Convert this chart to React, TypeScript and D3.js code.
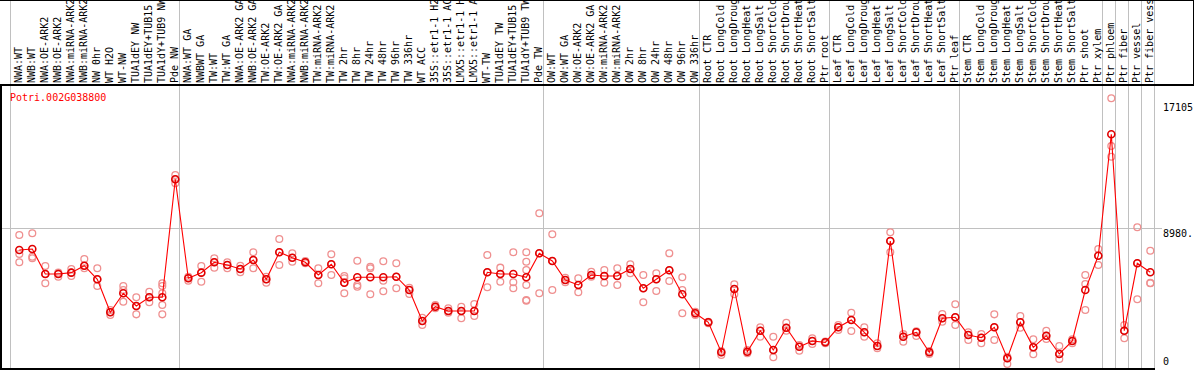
import React from "react";
import * as d3 from "d3";

const title = "Potri.002G038800";

const labels: string[] = [
  "NWA:WT", "NWB:WT", "NWA:OE-ARK2", "NWB:OE-ARK2", "NWA:miRNA-ARK2", "NWB:miRNA-ARK2",
  "NW 0hr", "WT H2O", "WT-NW", "TUA1dEY NW", "TUA1dEY+TUB15", "TUA1dY+TUB9 NW", "Pde NW",
  "NWA:WT GA", "NWBWT GA", "TW:WT", "TW:WT GA", "NWA:OE-ARK2 GA", "NWB:OE-ARK2 GA",
  "TW:OE-ARK2", "TW:OE-ARK2 GA", "NWA:miRNA-ARK2", "NWB:miRNA-ARK2", "TW:miRNA-ARK2",
  "TW:miRNA-ARK2", "TW 2hr", "TW 8hr", "TW 24hr", "TW 48hr", "TW 96hr", "TW 336hr",
  "WT ACC", "35S::etr1-1 H2O", "35S::etr1-1 ACC", "LMX5::etr1-1 H2O", "LMX5::etr1-1 ACC",
  "WT-TW", "TUA1dEY TW", "TUA1dEY+TUB15", "TUA1dY+TUB9 TW", "Pde TW",
  "OW:WT", "OW:WT GA", "OW:OE-ARK2", "OW:OE-ARK2 GA", "OW:miRNA-ARK2", "OW:miRNA-ARK2",
  "OW 2hr", "OW 8hr", "OW 24hr", "OW 48hr", "OW 96hr", "OW 336hr",
  "Root CTR", "Root LongCold", "Root LongDrought", "Root LongHeat", "Root LongSalt",
  "Root ShortCold", "Root ShortDrought", "Root ShortHeat", "Root ShortSalt", "Ptr root",
  "Leaf CTR", "Leaf LongCold", "Leaf LongDrought", "Leaf LongHeat", "Leaf LongSalt",
  "Leaf ShortCold", "Leaf ShortDrought", "Leaf ShortHeat", "Leaf ShortSalt", "Ptr leaf",
  "Stem CTR", "Stem LongCold", "Stem LongDrought", "Stem LongHeat", "Stem LongSalt",
  "Stem ShortCold", "Stem ShortDrought", "Stem ShortHeat", "Stem ShortSalt", "Ptr shoot",
  "Ptr xylem", "Ptr phloem", "Ptr fiber", "Ptr vessel", "Ptr fiber vessel",
];

const means: number[] = [
  7552, 7617, 6003, 6003, 6089, 6539, 5661, 3531, 4757, 3938, 4499, 4499, 12116,
  5725, 6089, 6758, 6584, 6326, 6907, 5661, 7404, 7056, 6758, 5939, 6629, 5442,
  5790, 5790, 5790, 5829, 4970, 2969, 3892, 3615, 3615, 3615, 6113, 6003, 6003, 5790,
  7339, 6842, 5616, 5293, 5939, 5874, 5874, 6326, 5080, 5661, 6242, 4693, 3466,
  2885, 949, 5035, 988, 2343, 1097, 2537, 1310, 1678, 1594,
  2563, 3034, 2240, 1356, 8133, 1956, 2240, 949, 3143, 3208,
  2066, 1891, 2563, 561, 2885, 1272, 2020, 839, 1678, 4970, 7185,
  15021, 2343, 6694, 6113,
];

const replicates: number[][] = [
  [8520, 7294, 6758], [8630, 7120, 7017], [6520, 6003, 5403], [6089, 6003, 5830],
  [6326, 6089, 5874], [6971, 6539, 6371], [6371, 5661, 5229], [3679, 3531, 3357],
  [5229, 4970, 4215], [4499, 3938, 3400], [4861, 4499, 4176], [5403, 5229, 4757, 4002, 3400],
  [12394, 12116, 11858],
  [5829, 5725, 5571], [6520, 6089, 5506], [7017, 6758, 6412], [6758, 6584, 6371],
  [6539, 6326, 6113], [7404, 6907, 6371], [5829, 5661, 5442], [8262, 7404, 6584],
  [7339, 7056, 6797], [6842, 6758, 6694], [6371, 5939, 5403], [7275, 6629, 5939],
  [5874, 5726, 5442, 4757], [6862, 5293, 5183], [6475, 6371, 4693], [6823, 5571, 4886],
  [6694, 5829, 5080], [5119, 4970, 4712], [3183, 2969, 2711], [4002, 3892, 3789],
  [3789, 3615, 3505], [3892, 3615, 3143], [4067, 3615, 3292], [7230, 6113, 5144],
  [6412, 6003, 5506], [7404, 5467, 5080], [7404, 6797, 6261, 5293, 4325, 4280],
  [9921, 7339, 4757], [8566, 6842, 4970],
  [5765, 5616, 5467], [5726, 5293, 4822], [6152, 5939, 5829], [6261, 5874, 5442],
  [6371, 5874, 5293], [6629, 6326, 6048], [5939, 5080, 4176], [6048, 5661, 4906],
  [7339, 6242, 5551], [5790, 4970, 3466], [3570, 3466, 3357], [2924, 2885, 2821],
  [1033, 949, 775], [5338, 5035, 4693], [1097, 988, 884], [2563, 2343, 1956],
  [1956, 1097, 626], [2860, 2537, 2343], [1420, 1310, 1052], [1853, 1678, 1485],
  [1650, 1594, 1540],
  [2711, 2563, 2388], [3505, 3034, 2324], [2563, 2240, 1956], [1530, 1356, 1207],
  [8695, 8133, 7404], [2120, 1956, 1633], [2300, 2240, 2001], [1033, 949, 839],
  [3421, 3143, 2924], [4047, 3208, 2711],
  [2240, 2066, 1743], [2130, 1891, 1530], [3400, 2563, 1743], [665, 561, 194],
  [3292, 2885, 2537], [1788, 1272, 820], [2343, 2020, 1807], [1356, 839, 516],
  [1788, 1678, 1530], [5939, 5358, 3679], [7617, 7185, 6584],
  [17345, 14266, 13575], [2711, 2343, 1853], [9018, 6694, 4370], [7507, 5429, 5403],
];

const groupBoundaries: number[] = [0, 13, 41, 53, 63, 73, 84, 85, 86, 87, 88];
const tickValues: number[] = [17105, 8980, 0];
const tickLabels: string[] = ["17105", "8980.", "0"];

const W = 1194;
const H = 370;
const FONT = "'DejaVu Sans Mono', 'Liberation Mono', monospace";

export default function App() {
  const x = d3
    .scaleBand<number>()
    .domain(d3.range(labels.length))
    .range([10, 10 + 13 * labels.length])
    .paddingInner(0)
    .paddingOuter(0);
  const bw = x.bandwidth();
  const cx = (i: number) => (x(i) as number) + 9.3;
  const y = d3.scaleLinear().domain([0, 17105]).range([367, 102]);

  const line = d3
    .line<number>()
    .x((_, i) => cx(i))
    .y((d) => y(d));

  const gx = (k: number) => 10 + bw * k + 0.5;

  return (
    <svg
      width={W}
      height={H}
      style={{ position: "absolute", left: 0, top: 0, background: "#fff" }}
      fontFamily={FONT}
    >
      <rect x={0} y={0} width={W} height={H} fill="#fff" />
      {/* vertical group lines */}
      {groupBoundaries.map((k) => (
        <line key={"g" + k} x1={gx(k)} x2={gx(k)} y1={0} y2={H} stroke="#c0c0c0" strokeWidth={1} />
      ))}
      {/* horizontal mid gridline */}
      <line
        x1={0}
        x2={1162}
        y1={Math.round(y(8980)) + 0.5}
        y2={Math.round(y(8980)) + 0.5}
        stroke="#c0c0c0"
        strokeWidth={1}
      />
      {/* frame */}
      <line x1={0} x2={W} y1={85} y2={85} stroke="#000" strokeWidth={2} />
      <line x1={0} x2={W} y1={0.5} y2={0.5} stroke="#000" strokeWidth={1} />
      <line x1={1} x2={1} y1={85} y2={H} stroke="#000" strokeWidth={2} />
      <line x1={0} x2={1155} y1={369} y2={369} stroke="#000" strokeWidth={2} />
      <line x1={1193.5} x2={1193.5} y1={0} y2={85} stroke="#000" strokeWidth={1} />

      {/* column labels */}
      {labels.map((l, i) => (
        <text
          key={"l" + i}
          transform={`translate(${(x(i) as number) + 11.8},83) rotate(-90)`}
          fontSize={10}
          fill="#000"
        >
          {l}
        </text>
      ))}

      {/* title */}
      <text x={10} y={101} fontSize={10} fill="#ff0000">
        {title}
      </text>

      {/* y tick labels */}
      {tickValues.map((v, i) => (
        <text
          key={"t" + i}
          x={1163}
          y={v === 0 ? 365 : Math.round(y(v)) + 9}
          fontSize={10}
          fill="#000"
        >
          {tickLabels[i]}
        </text>
      ))}

      {/* replicates */}
      {replicates.map((reps, i) =>
        reps.map((r, j) => (
          <circle
            key={`r${i}-${j}`}
            cx={cx(i)}
            cy={y(r)}
            r={3.4}
            fill="none"
            stroke="#ef9090"
            strokeWidth={1.3}
          />
        ))
      )}

      {/* mean line */}
      <path d={line(means) || ""} fill="none" stroke="#ff0000" strokeWidth={1.1} />

      {/* mean markers */}
      {means.map((m, i) => (
        <circle
          key={"m" + i}
          cx={cx(i)}
          cy={y(m)}
          r={3.5}
          fill="none"
          stroke="#e00000"
          strokeWidth={1.6}
        />
      ))}
    </svg>
  );
}
